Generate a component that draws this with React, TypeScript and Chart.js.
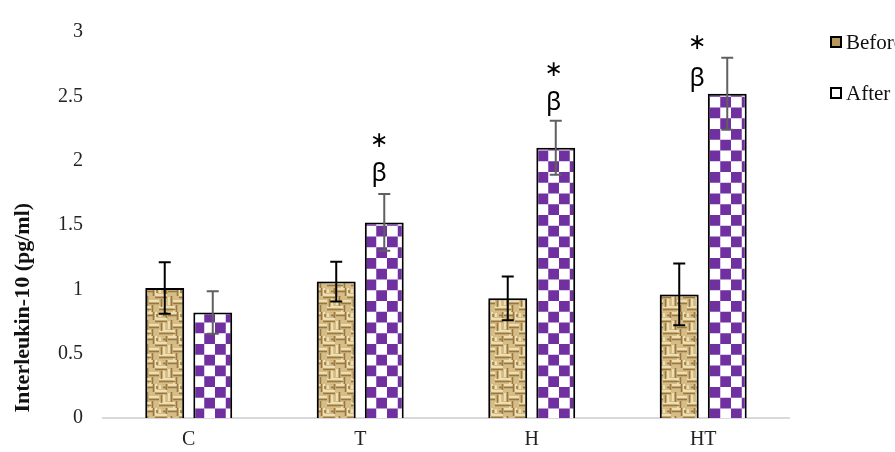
import React, { useEffect, useRef } from 'react';
import { Chart, registerables } from 'chart.js';

Chart.register(...registerables);

const categories = ['C', 'T', 'H', 'HT'];
const seriesLabels = ['Before', 'After'];
const beforeValues = [1.01, 1.06, 0.93, 0.96];
const beforeErrors = [0.2, 0.155, 0.17, 0.24];
const afterValues = [0.82, 1.52, 2.1, 2.52];
const afterErrors = [0.165, 0.22, 0.21, 0.28];
const yMin = 0;
const yMax = 3;
const yStep = 0.5;
const yTitle = 'Interleukin-10 (pg/ml)';
// significance marks above the "After" bars (value level of each symbol)
const betaLevels = [null, 1.89, 2.445, 2.63];
const starLevels = [null, 2.163, 2.711, 2.922];

const SERIF = '"Liberation Serif", "Times New Roman", serif';

function makeChecker(): CanvasPattern | string {
  const c = document.createElement('canvas');
  const n = 4;
  const s = 10.75;
  const size = Math.round(n * s);
  c.width = size;
  c.height = size;
  const g = c.getContext('2d');
  if (!g) return '#7030A0';
  g.fillStyle = '#ffffff';
  g.fillRect(0, 0, size, size);
  g.fillStyle = '#7030A0';
  for (let i = 0; i < n; i++) {
    for (let j = 0; j < n; j++) {
      if ((i + j) % 2 === 0) g.fillRect(i * s, j * s, s, s);
    }
  }
  return g.createPattern(c, 'repeat') || '#7030A0';
}

function makeBurlap(): CanvasPattern | string {
  const c = document.createElement('canvas');
  const T = 24;
  c.width = T;
  c.height = T;
  const g = c.getContext('2d');
  if (!g) return '#C7A86E';
  g.fillStyle = '#D6BD88';
  g.fillRect(0, 0, T, T);
  const light: number[][] = [
    [0, 1, 9, 1], [11, 7, 23, 7], [5, 13, 15, 13], [15, 19, 24, 19], [0, 19, 7, 19],
    [12, 0, 12, 6], [1, 9, 1, 17], [20, 10, 20, 18], [6, 20, 6, 24], [16, 1, 16, 5],
  ];
  const dark: number[][] = [
    [0, 3.5, 9, 3.5], [11, 9.5, 23, 9.5], [5, 15.5, 15, 15.5], [15, 21.5, 24, 21.5], [0, 21.5, 7, 21.5],
    [9.5, 0, 9.5, 8], [3.5, 8, 3.5, 18], [17.5, 11, 17.5, 19], [8.5, 17, 8.5, 24], [22.5, 0, 22.5, 6],
    [13, 2, 13, 5], [19, 3.5, 22, 3.5],
  ];
  g.lineCap = 'butt';
  g.strokeStyle = '#EEDFB3';
  g.lineWidth = 2;
  light.forEach(([a, b, cc, d]) => {
    g.beginPath();
    g.moveTo(a, b);
    g.lineTo(cc, d);
    g.stroke();
  });
  g.strokeStyle = '#9A7841';
  g.lineWidth = 1.6;
  dark.forEach(([a, b, cc, d]) => {
    g.beginPath();
    g.moveTo(a, b);
    g.lineTo(cc, d);
    g.stroke();
  });
  return g.createPattern(c, 'repeat') || '#C7A86E';
}

function drawCentered(ctx: CanvasRenderingContext2D, text: string, x: number, cy: number) {
  ctx.textAlign = 'center';
  ctx.textBaseline = 'alphabetic';
  const m = ctx.measureText(text);
  const asc = m.actualBoundingBoxAscent;
  const desc = m.actualBoundingBoxDescent;
  ctx.fillText(text, x, cy + (asc - desc) / 2);
}

export default function App() {
  const ref = useRef<HTMLCanvasElement | null>(null);

  useEffect(() => {
    if (!ref.current) return;
    const burlap = makeBurlap();
    const checker = makeChecker();
    const errorSets = [
      { errs: beforeErrors, color: '#000000' },
      { errs: afterErrors, color: '#606060' },
    ];

    const shadowPlugin = {
      id: 'barShadow',
      beforeDatasetDraw(chart: any, args: any) {
        if (args.index !== 0) return;
        const ctx = chart.ctx;
        ctx.save();
        ctx.shadowColor = 'rgba(0,0,0,0.35)';
        ctx.shadowBlur = 8;
        ctx.shadowOffsetX = -3;
        ctx.shadowOffsetY = 1;
      },
      afterDatasetDraw(chart: any, args: any) {
        if (args.index !== 0) return;
        chart.ctx.restore();
      },
    };

    const errorBarPlugin = {
      id: 'errorBars',
      afterDatasetsDraw(chart: any) {
        const ctx = chart.ctx;
        const y = chart.scales.y;
        errorSets.forEach((s, di) => {
          const meta = chart.getDatasetMeta(di);
          meta.data.forEach((bar: any, i: number) => {
            const v = chart.data.datasets[di].data[i] as number;
            const top = y.getPixelForValue(v + s.errs[i]);
            const bot = y.getPixelForValue(v - s.errs[i]);
            ctx.save();
            ctx.strokeStyle = s.color;
            ctx.lineWidth = 2;
            ctx.beginPath();
            ctx.moveTo(bar.x, top);
            ctx.lineTo(bar.x, bot);
            ctx.moveTo(bar.x - 6, top);
            ctx.lineTo(bar.x + 6, top);
            ctx.moveTo(bar.x - 6, bot);
            ctx.lineTo(bar.x + 6, bot);
            ctx.stroke();
            ctx.restore();
          });
        });
      },
    };

    const annotationPlugin = {
      id: 'sigMarks',
      afterDatasetsDraw(chart: any) {
        const ctx = chart.ctx;
        const y = chart.scales.y;
        const meta = chart.getDatasetMeta(1);
        const shifts = [0, -5, -2, -30];
        meta.data.forEach((bar: any, i: number) => {
          const b = betaLevels[i];
          const s = starLevels[i];
          const x = bar.x + shifts[i];
          ctx.save();
          ctx.fillStyle = '#000000';
          if (b !== null) {
            ctx.font = '25px "Noto Sans", "DejaVu Sans", sans-serif';
            drawCentered(ctx, 'β', x, y.getPixelForValue(b));
          }
          if (s !== null) {
            ctx.font = '22px "DejaVu Sans", sans-serif';
            drawCentered(ctx, '∗', x, y.getPixelForValue(s));
          }
          ctx.restore();
        });
      },
    };

    const legendPlugin = {
      id: 'sideLegend',
      afterDraw(chart: any) {
        const ctx = chart.ctx;
        const area = chart.chartArea;
        const x = area.right + 41;
        const rows = [area.top + 10, area.top + 61];
        chart.data.datasets.forEach((ds: any, i: number) => {
          const cy = rows[i];
          ctx.save();
          ctx.fillStyle = i === 0 ? '#B8975C' : '#ffffff';
          ctx.fillRect(x, cy - 6, 12, 12);
          ctx.strokeStyle = '#000000';
          ctx.lineWidth = 2;
          ctx.strokeRect(x + 1, cy - 5, 10, 10);
          ctx.fillStyle = '#111111';
          ctx.font = '21px ' + SERIF;
          ctx.textBaseline = 'middle';
          ctx.textAlign = 'left';
          ctx.fillText(ds.label, x + 16, cy + 1);
          ctx.restore();
        });
      },
    };

    const chart = new Chart(ref.current, {
      type: 'bar',
      data: {
        labels: categories,
        datasets: [
          {
            label: seriesLabels[0],
            data: beforeValues,
            backgroundColor: burlap as any,
            borderColor: '#000000',
            borderWidth: 2,
            categoryPercentage: 0.56,
            barPercentage: 0.81,
          },
          {
            label: seriesLabels[1],
            data: afterValues,
            backgroundColor: checker as any,
            borderColor: '#000000',
            borderWidth: 2,
            categoryPercentage: 0.56,
            barPercentage: 0.81,
          },
        ],
      },
      options: {
        animation: false,
        responsive: true,
        maintainAspectRatio: false,
        layout: { padding: { top: 19, right: 106, bottom: 0, left: 0 } },
        plugins: {
          legend: { display: false },
          tooltip: { enabled: false },
        },
        scales: {
          x: {
            grid: { display: false, drawTicks: false },
            border: { display: true, color: '#D9D9D9', width: 2 },
            ticks: {
              color: '#222222',
              font: { family: SERIF, size: 20 },
              padding: 10,
            },
            afterFit(scale: any) {
              scale.height = 34;
            },
          },
          y: {
            min: yMin,
            max: yMax,
            grid: { display: false, drawTicks: false },
            border: { display: false },
            ticks: {
              stepSize: yStep,
              color: '#222222',
              font: { family: SERIF, size: 20 },
              padding: 20,
              callback: (v: any) => String(Number(v)),
            },
            title: {
              display: true,
              text: ' ' + yTitle,
              align: 'start',
              color: '#111111',
              font: { family: SERIF, size: 22, weight: 'bold' },
              padding: { top: 10, bottom: 0 },
            },
            afterFit(scale: any) {
              scale.width = 103;
            },
          },
        },
      },
      plugins: [shadowPlugin, errorBarPlugin, annotationPlugin, legendPlugin],
    });

    return () => chart.destroy();
  }, []);

  return (
    <div style={{ position: 'absolute', left: 0, top: 0, width: 895, height: 452, background: '#ffffff' }}>
      <canvas ref={ref} />
    </div>
  );
}
